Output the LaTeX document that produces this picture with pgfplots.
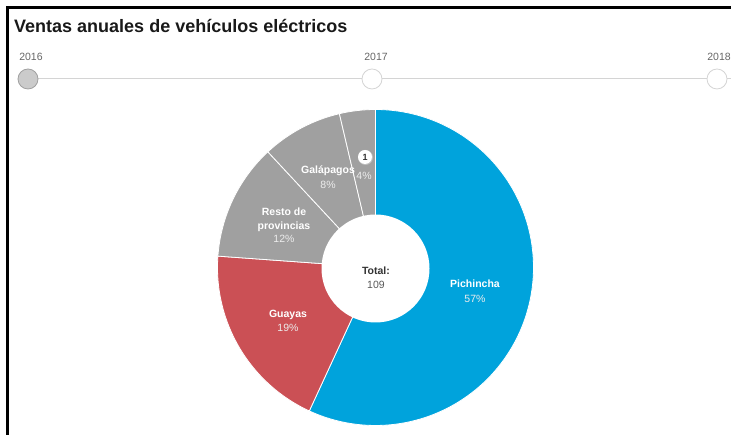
\documentclass[border=0pt]{standalone}
\usepackage{pgfplots}
\pgfplotsset{compat=1.18}
\usepackage{pgfplotstable}
\usepackage{fontspec}
\setmainfont{Liberation Sans}

\definecolor{pich}{HTML}{00A3DC}
\definecolor{guay}{HTML}{CB5055}
\definecolor{gris}{HTML}{A0A0A0}
\definecolor{linea}{HTML}{D4D4D4}
\definecolor{txtdark}{HTML}{333333}

% provincia, ventas (vehiculos), color
\pgfplotstableread{
name value color
Pichincha 62 pich
Guayas 21 guay
Resto 13 gris
Galapagos 9 gris
Otro 4 gris
}\ventas

\begin{document}
\begin{tikzpicture}
\useasboundingbox (0,0) rectangle (731pt,435pt);
% total and wedge angles from the data
\gdef\total{0}
\foreach \i in {0,...,4}{%
  \pgfplotstablegetelem{\i}{value}\of\ventas
  \pgfmathsetmacro\t{\total+\pgfplotsretval}\xdef\total{\t}}
\gdef\cum{90}
\foreach \i in {0,...,4}{%
  \pgfplotstablegetelem{\i}{value}\of\ventas
  \pgfmathsetmacro\e{\cum-(\pgfplotsretval/\total)*360}%
  \expandafter\xdef\csname sA\i\endcsname{\cum}%
  \expandafter\xdef\csname eA\i\endcsname{\e}%
  \pgfplotstablegetelem{\i}{color}\of\ventas
  \expandafter\xdef\csname cA\i\endcsname{\pgfplotsretval}%
  \xdef\cum{\e}}
\tikzset{yr/.style={anchor=base, inner sep=0pt, font=\fontsize{10.5}{12}\selectfont, text=black!60},
         nm/.style={anchor=base, inner sep=0pt, text=white, font=\fontsize{10.5}{12}\selectfont\bfseries},
         pc/.style={anchor=base, inner sep=0pt, text=white!93!black, font=\fontsize{10.5}{12}\selectfont}}
\begin{axis}[
  scale only axis, width=731pt, height=435pt,
  xmin=0, xmax=731, ymin=0, ymax=435,
  hide axis, clip=false]
% border
\draw[black, line width=3pt] (axis cs:7.5,0) -- (axis cs:7.5,427.5) -- (axis cs:740,427.5);
% title
\node[anchor=base west, inner sep=0pt, font=\fontsize{18}{20}\selectfont\bfseries, text=black!90]
  at (axis cs:14,402) {Ventas anuales de vehículos eléctricos};
% timeline
\draw[linea, line width=1pt] (axis cs:28,356) -- (axis cs:740,356);
\fill[gris!55, draw=gris, line width=0.8pt] (axis cs:28,356) circle[radius=10pt];
\fill[white, draw=linea, line width=0.8pt] (axis cs:372,356) circle[radius=10pt];
\fill[white, draw=linea, line width=0.8pt] (axis cs:717,356) circle[radius=10pt];
\node[yr] at (axis cs:31,374) {2016};
\node[yr] at (axis cs:376,374) {2017};
\node[yr] at (axis cs:719,374) {2018};
% donut wedges
\pgfplotsinvokeforeach{0,...,4}{
  \fill[\csname cA#1\endcsname, draw=white, line width=0.8pt, line join=round]
    (axis cs:375.5,167.5) -- ++(\csname sA#1\endcsname:158pt)
    arc[start angle=\csname sA#1\endcsname, end angle=\csname eA#1\endcsname, radius=158pt] -- cycle;
}
\fill[white] (axis cs:375.5,166.5) circle[radius=54pt];
% labels
\node[nm] at (axis cs:475,147) {Pichincha};
\node[pc] at (axis cs:475,132) {57\%};
\node[nm] at (axis cs:288,117) {Guayas};
\node[pc] at (axis cs:288,103) {19\%};
\node[nm] at (axis cs:284,219) {Resto de};
\node[nm] at (axis cs:284,205) {provincias};
\node[pc] at (axis cs:284,192) {12\%};
\node[nm] at (axis cs:328,261) {Galápagos};
\node[pc] at (axis cs:328,246) {8\%};
\fill[black!25] (axis cs:365.5,277.5) circle[radius=7.5pt];
\fill[white] (axis cs:365,278) circle[radius=7pt];
\node[anchor=base, inner sep=0pt, text=txtdark, font=\fontsize{9}{10}\selectfont\bfseries] at (axis cs:365,274.5) {1};
\node[pc] at (axis cs:364,255) {4\%};
\node[anchor=base, inner sep=0pt, text=txtdark, font=\fontsize{10.5}{12}\selectfont\bfseries] at (axis cs:376,160) {Total:};
\node[anchor=base, inner sep=0pt, text=black!65, font=\fontsize{10.5}{12}\selectfont] at (axis cs:376,146) {109};
\end{axis}
\end{tikzpicture}
\end{document}
